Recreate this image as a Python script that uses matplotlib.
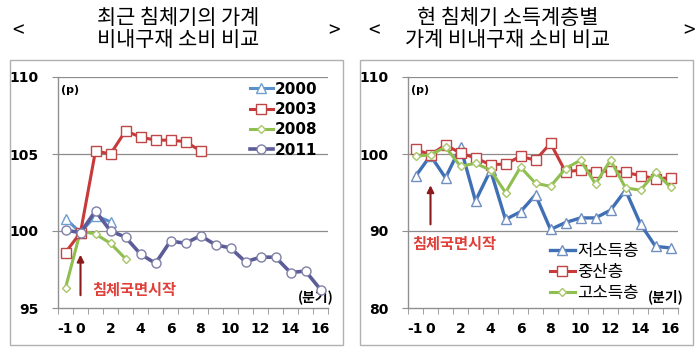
import matplotlib
matplotlib.use("Agg")
import matplotlib.pyplot as plt
from matplotlib.patches import Rectangle
import numpy as np

plt.rcParams['font.family'] = ['Noto Sans CJK KR', 'DejaVu Sans']

quarters = list(range(-1, 17))
xtick_vals = [-1, 0, 2, 4, 6, 8, 10, 12, 14, 16]
xtick_labels = ["-1", "0", "2", "4", "6", "8", "10", "12", "14", "16"]

# Left chart: recessions compared
s2000 = [100.8, 99.9, 101.0, 100.6]
s2003 = [98.6, 99.9, 105.2, 105.0, 106.5, 106.1, 105.9, 105.9, 105.8, 105.2]
s2008 = [96.3, 100.0, 99.8, 99.2, 98.2]
s2011 = [100.05, 99.9, 101.3, 100.0, 99.6, 98.5, 97.9, 99.35, 99.2, 99.7,
         99.1, 98.9, 98.0, 98.3, 98.3, 97.3, 97.4, 96.2]

# Right chart: by income class
low = [97.1, 99.8, 96.9, 100.9, 93.9, 97.9, 91.5, 92.5, 94.7, 90.2,
       91.1, 91.7, 91.7, 92.7, 95.3, 90.9, 88.0, 87.8]
mid = [100.6, 99.9, 101.2, 100.1, 99.5, 98.6, 98.7, 99.7, 99.2, 101.4,
       97.7, 97.9, 97.7, 97.8, 97.6, 97.2, 96.8, 96.9]
high = [99.7, 99.9, 100.9, 98.4, 98.8, 97.9, 95.0, 98.3, 96.2, 95.8,
        98.1, 99.2, 96.1, 99.2, 95.6, 95.3, 97.6, 95.7]

fig = plt.figure(figsize=(7, 3.5), dpi=100)
W, H = 700.0, 350.0

# panel borders
for x0, x1 in [(10, 343), (360, 693)]:
    fig.patches.append(Rectangle((x0 / W, 5 / H), (x1 - x0) / W, 285 / H,
                                 transform=fig.transFigure, fill=False,
                                 edgecolor='#b0b0b0', lw=1.0))

# titles
fig.text(178 / W, 1 - 29 / H, "최근 침체기의 가계\n비내구재 소비 비교", ha='center', va='center',
         fontsize=15, linespacing=1.0)
fig.text(18 / W, 1 - 31 / H, "<", ha='center', va='center', fontsize=15)
fig.text(334 / W, 1 - 31 / H, ">", ha='center', va='center', fontsize=15)
fig.text(508 / W, 1 - 29 / H, "현 침체기 소득계층별\n가계 비내구재 소비 비교", ha='center', va='center',
         fontsize=15, linespacing=1.0)
fig.text(374 / W, 1 - 31 / H, "<", ha='center', va='center', fontsize=15)
fig.text(689 / W, 1 - 31 / H, ">", ha='center', va='center', fontsize=15)

axL = fig.add_axes([58 / W, 1 - 308 / H, 270 / W, 231 / H])
axR = fig.add_axes([408 / W, 1 - 308 / H, 270 / W, 231 / H])


def style(ax, ylim, yticks):
    ax.set_xlim(-1.5, 16.5)
    ax.set_ylim(*ylim)
    ax.set_yticks(yticks)
    ax.set_yticklabels([str(v) for v in yticks], fontsize=10, fontweight='bold',
                       family=['DejaVu Sans'])
    ax.set_xticks(xtick_vals)
    ax.set_xticklabels(xtick_labels, fontsize=10, fontweight='bold', family=['DejaVu Sans'])
    ax.set_xticks(np.arange(-1.5, 17, 1.0), minor=True)
    ax.tick_params(axis='x', which='major', length=0, pad=10)
    ax.tick_params(axis='x', which='minor', length=4, color='#909090', direction='out')
    ax.tick_params(axis='y', length=4, color='#909090', direction='out', pad=10)
    for s in ['top', 'right']:
        ax.spines[s].set_visible(False)
    for s in ['left', 'bottom']:
        ax.spines[s].set_color('#909090')
        ax.spines[s].set_linewidth(1.0)
    for v in yticks[1:]:
        ax.axhline(v, color='#8c8c8c', lw=0.9, zorder=0)
    ax.text(0.01, 0.965, "(p)", transform=ax.transAxes, fontsize=8, fontweight='bold',
            ha='left', va='top', family=['DejaVu Sans'])
    ax.text(1.02, 0.015, "(분기)", transform=ax.transAxes, fontsize=10, fontweight='bold',
            ha='right', va='bottom')


style(axL, (95, 110), [95, 100, 105, 110])
style(axR, (80, 110), [80, 90, 100, 110])


def series(ax, y, color, marker, ms, mec, lw=2.2, label=None, z=3):
    x = quarters[:len(y)]
    return ax.plot(x, y, color=color, lw=lw, marker=marker, ms=ms, mfc='white',
                   mec=mec, mew=1.0, label=label, zorder=z)[0]


h1 = series(axL, s2000, '#5b8fc9', '^', 6.5, '#6f9fd0', label='2000', z=3)
h2 = series(axL, s2003, '#c8393a', 's', 6.5, '#c04545', label='2003', z=4)
h3 = series(axL, s2008, '#8fbf50', 'D', 4.5, '#a9c66a', label='2008', z=3)
h4 = series(axL, s2011, '#5c5c98', 'o', 6.5, '#7f7fa8', lw=2.6, label='2011', z=5)

axL.legend(handles=[h1, h2, h3, h4], loc='upper left', bbox_to_anchor=(0.66, 1.04),
           frameon=False, handlelength=1.5, handletextpad=0.15, labelspacing=0.35,
           prop={'size': 11, 'weight': 'bold', 'family': ['DejaVu Sans']})

g1 = series(axR, low, '#3f6fb5', '^', 6.5, '#6f8fc0', lw=2.4, label='저소득층', z=3)
g2 = series(axR, mid, '#c8393a', 's', 6.5, '#c04545', lw=2.2, label='중산층', z=4)
g3 = series(axR, high, '#8fbf50', 'D', 4.5, '#a9c66a', lw=2.2, label='고소득층', z=5)
axR.legend(handles=[g1, g2, g3], loc='upper left', bbox_to_anchor=(0.47, 0.345),
           frameon=False, handlelength=1.5, handletextpad=0.15, labelspacing=0.22,
           prop={'size': 12})

# recession start arrows
for ax, ybase, ytip, ytext, xtext in [(axL, 95.65, 98.64, 96.2, 0.8),
                                       (axR, 90.5, 96.3, 88.4, -1.25)]:
    ax.annotate("", xy=(0.0, ytip), xytext=(0.0, ybase),
                arrowprops=dict(arrowstyle='-|>', color='#8b1a1a', lw=1.5,
                                mutation_scale=10), zorder=6)
    ax.text(xtext, ytext, "침체국면시작", color='#e0403a', fontsize=11, fontweight='bold',
            ha='left', va='center', zorder=6)

fig.savefig("out.png", dpi=100)
